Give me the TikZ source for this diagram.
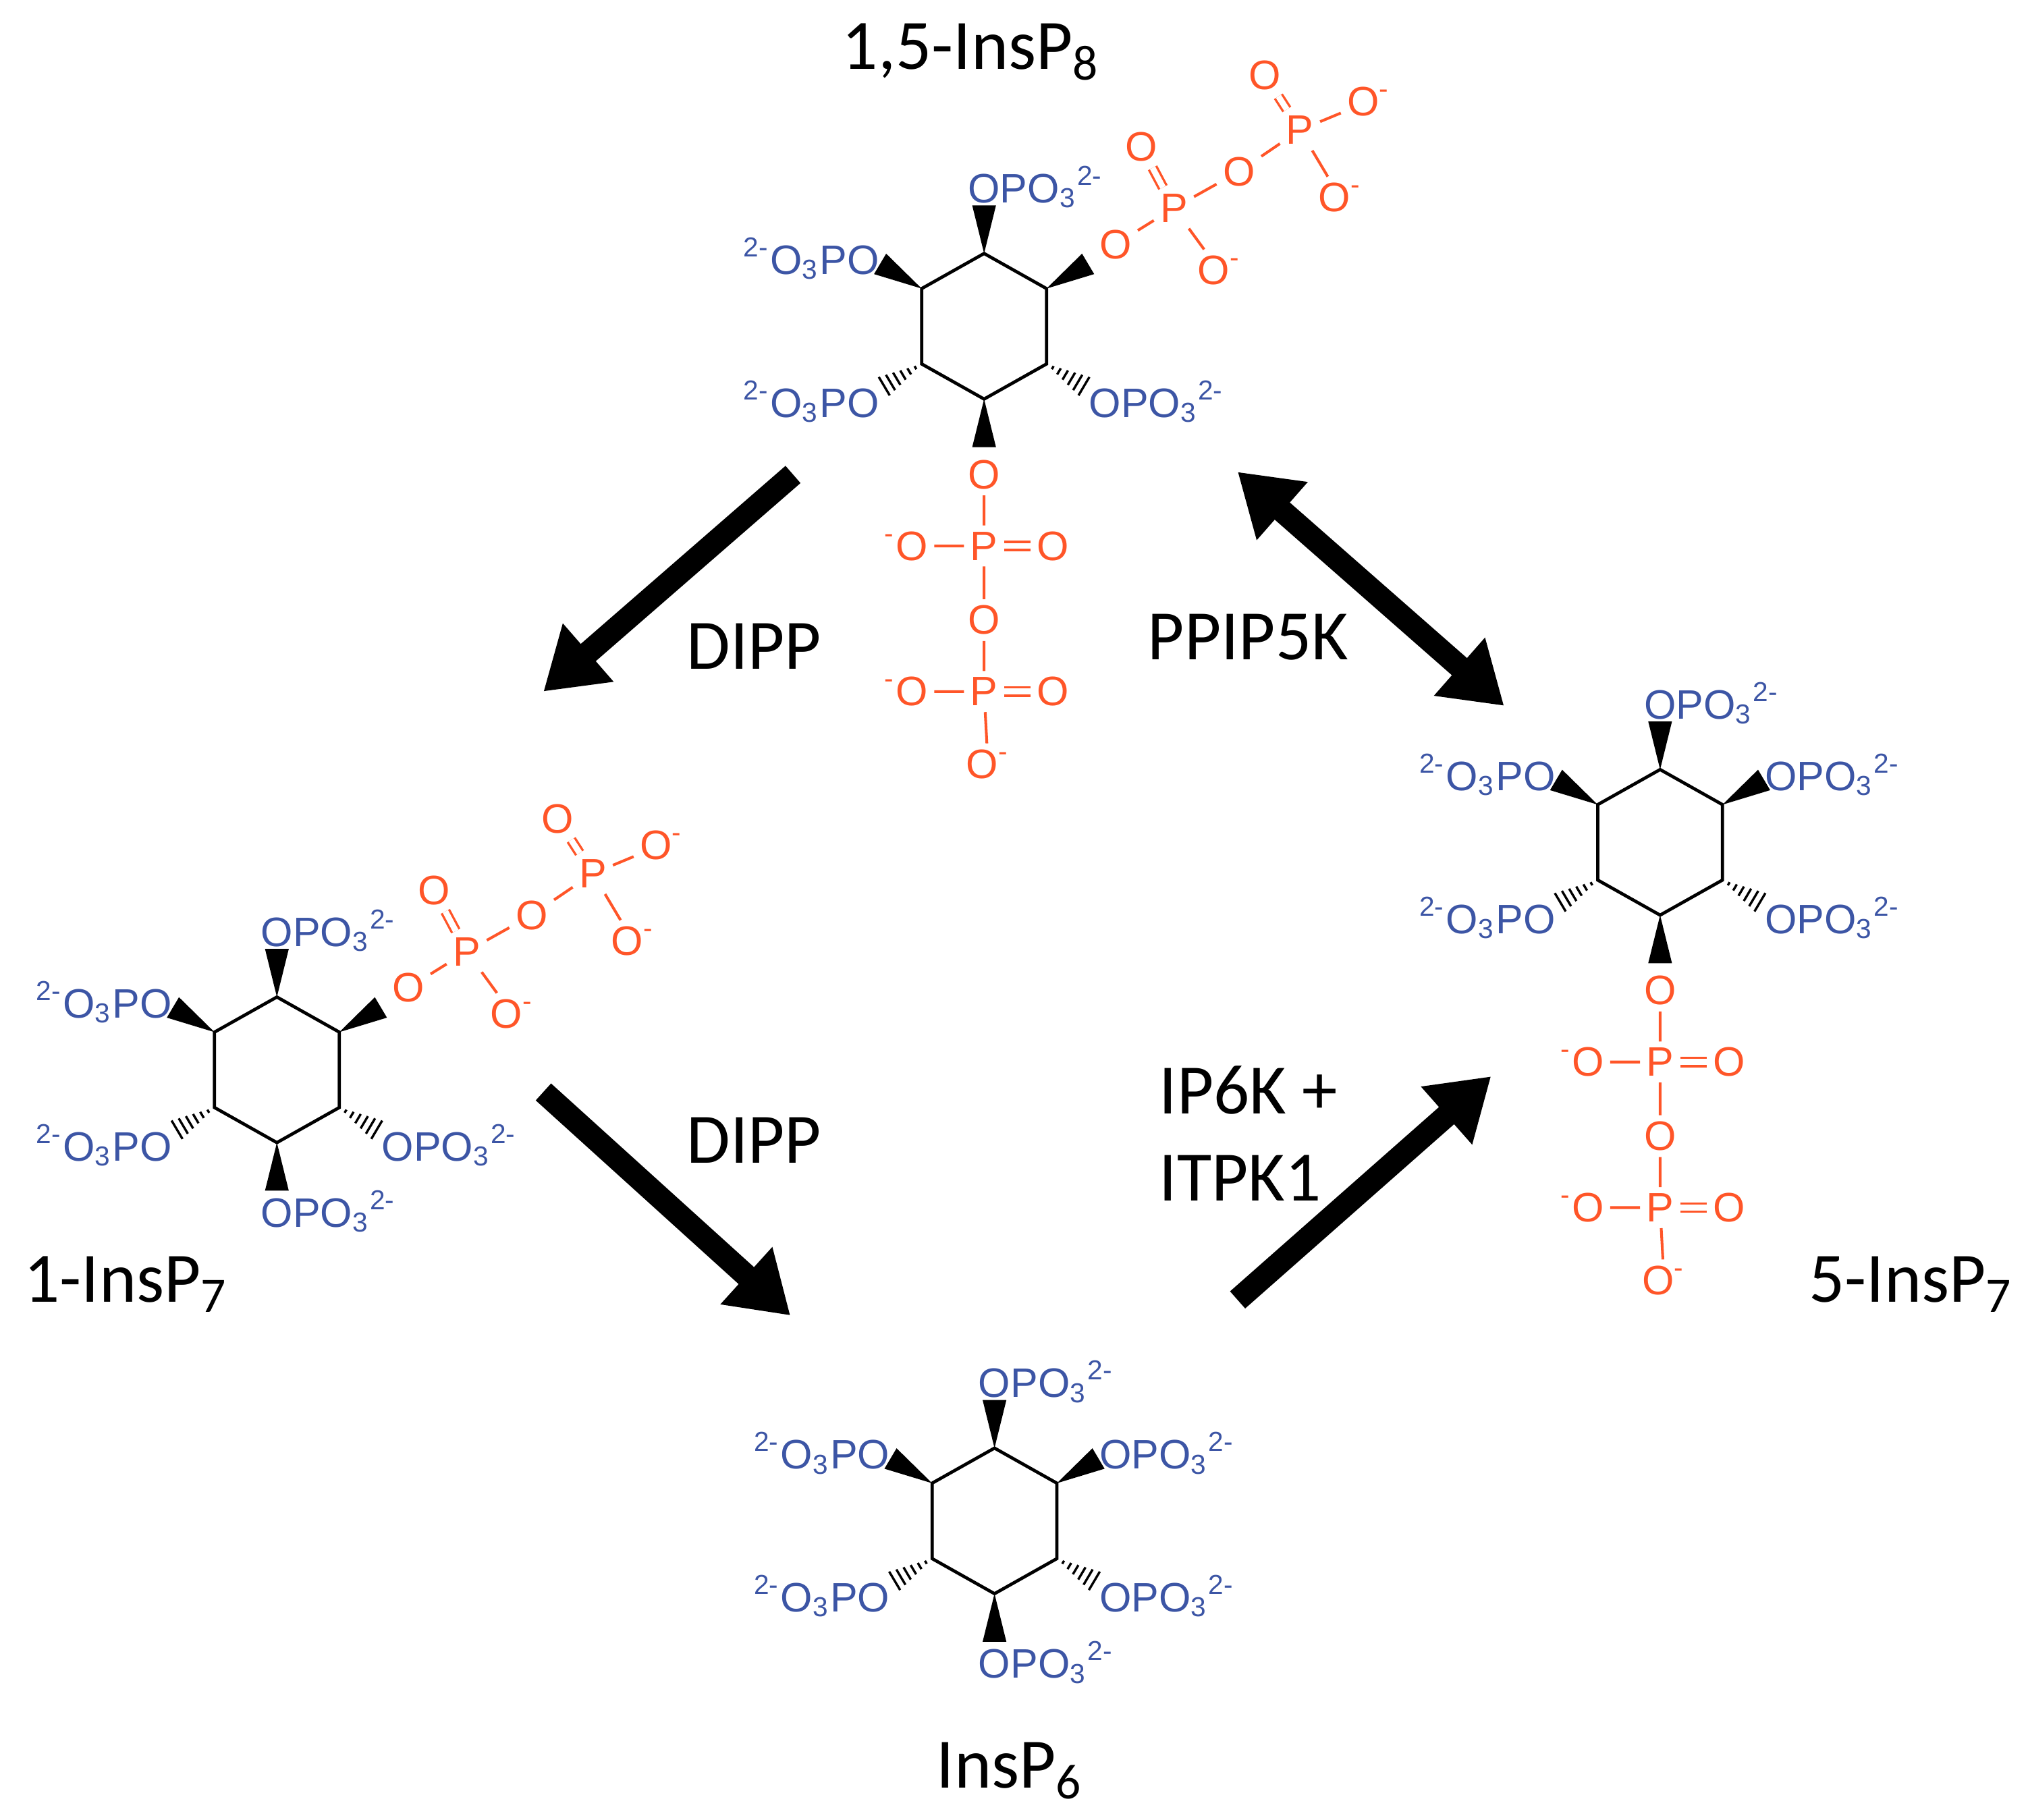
\documentclass[tikz,border=0pt]{standalone}
\usepackage{fontspec}
\setmainfont{Carlito}
\newfontfamily\chem{Liberation Sans}
\usetikzlibrary{calc,arrows.meta}
\definecolor{cblue}{RGB}{60,85,165}
\definecolor{corange}{RGB}{255,85,40}
\tikzset{
 blab/.style={font=\chem\fontsize{9}{10}\selectfont, text=cblue, inner sep=0pt},
 oat/.style={font=\chem\fontsize{9}{10}\selectfont, text=corange, inner sep=1.2pt},
 obond/.style={draw=corange, line width=0.6pt},
 odbl/.style={draw=corange, line width=0.5pt, double=white, double distance=1.3pt},
 ringline/.style={line width=0.7pt},
 bigarrow/.style={line width=5pt, -{Triangle[length=13pt,width=16pt]}},
 bigdarrow/.style={line width=5pt, {Triangle[length=13pt,width=16pt]}-{Triangle[length=13pt,width=16pt]}},
 molname/.style={font=\fontsize{15.5}{18}\selectfont, inner sep=0pt},
 enzyme/.style={font=\fontsize{15.5}{19}\selectfont, inner sep=0pt},
}
\newcommand\opo{OPO\textsubscript{3}\textsuperscript{2-}}
\newcommand\opol{\textsuperscript{2-}O\textsubscript{3}PO}
\newcommand\insring{%
 \coordinate (v1) at (0,-56); \coordinate (v2) at (48,-29); \coordinate (v3) at (48,29);
 \coordinate (v4) at (0,56); \coordinate (v5) at (-48,29); \coordinate (v6) at (-48,-29);
 \coordinate (e1) at (0,-93); \coordinate (e2) at (80,-48); \coordinate (e3) at (80,48);
 \coordinate (e4) at (0,93); \coordinate (e5) at (-80,48); \coordinate (e6) at (-80,-48);
 \draw[ringline] (v1)--(v2)--(v3)--(v4)--(v5)--(v6)--cycle;
 \foreach \i in {1,2,4,6}{\fill (v\i) -- ($(e\i)!2.6pt!90:(v\i)$) -- ($(e\i)!2.6pt!-90:(v\i)$) -- cycle;}
 \foreach \i in {3,5}{\foreach \t in {0.15,0.3,0.45,0.6,0.75,0.9}{\draw[line width=0.5pt] ($(v\i)!\t!(e\i)!{\t*2.6pt}!90:(e\i)$) -- ($(v\i)!\t!(e\i)!{\t*2.6pt}!-90:(e\i)$);}}
}
\newcommand\labTop{\node[blab,anchor=base west] at (-13,-95) {\opo};}
\newcommand\labUL{\node[blab,anchor=base east] at (-80,-40) {\opol};}
\newcommand\labUR{\node[blab,anchor=base west] at (80,-40) {\opo};}
\newcommand\labLL{\node[blab,anchor=base east] at (-80,70) {\opol};}
\newcommand\labLR{\node[blab,anchor=base west] at (80,70) {\opo};}
\newcommand\labBot{\node[blab,anchor=base west] at (-13,121) {\opo};}
\newcommand\chainB[1]{%
 \node[oat] (#1a) at (0,114) {O};
 \node[oat] (#1b) at (0,169) {P};
 \node[oat] (#1c) at (-60,169) {\textsuperscript{-}O};
 \node[oat] (#1d) at (53,169) {O};
 \node[oat] (#1e) at (0,226) {O};
 \node[oat] (#1f) at (0,281) {P};
 \node[oat] (#1g) at (-60,281) {\textsuperscript{-}O};
 \node[oat] (#1h) at (53,281) {O};
 \node[oat] (#1i) at (3,337) {O\textsuperscript{-}};
 \draw[obond] (#1a)--(#1b) (#1b)--(#1c) (#1b)--(#1e) (#1e)--(#1f) (#1f)--(#1g) (#1f)--(#1i);
 \draw[odbl] (#1b)--(#1d) (#1f)--(#1h);
}
\newcommand\chainR[1]{%
 \node[oat] (#1a) at (101,-63) {O};
 \node[oat] (#1b) at (146,-91) {P};
 \node[oat] (#1c) at (181,-43) {O\textsuperscript{-}};
 \node[oat] (#1d) at (121,-138) {O};
 \node[oat] (#1e) at (196,-119) {O};
 \node[oat] (#1f) at (243,-151) {P};
 \node[oat] (#1g) at (216,-193) {O};
 \node[oat] (#1h) at (296,-173) {O\textsuperscript{-}};
 \node[oat] (#1i) at (274,-99) {O\textsuperscript{-}};
 \draw[obond] (#1a)--(#1b) (#1b)--(#1c) (#1b)--(#1e) (#1e)--(#1f) (#1f)--(#1h) (#1f)--(#1i);
 \draw[odbl] (#1b)--(#1d) (#1f)--(#1g);
}
\begin{document}
\begin{tikzpicture}[x=0.01cm,y=-0.01cm]
\useasboundingbox (0,0) rectangle (1560,1400);
% 1,5-InsP8
\begin{scope}[shift={(757,251)}]
 \insring \labTop \labUL \labLL \labLR \chainB{p8b} \chainR{p8r}
\end{scope}
% 1-InsP7
\begin{scope}[shift={(213,823)}]
 \insring \labTop \labUL \labLL \labLR \labBot \chainR{p7r}
\end{scope}
% 5-InsP7
\begin{scope}[shift={(1277,648)}]
 \insring \labTop \labUL \labUR \labLL \labLR \chainB{q7b}
\end{scope}
% InsP6
\begin{scope}[shift={(765,1170)}]
 \insring \labTop \labUL \labUR \labLL \labLR \labBot
\end{scope}
% names
\node[molname] (n8) at (747,40) {1,5-InsP\textsubscript{8}};
\node[molname] (n1) at (97,988) {1-InsP\textsubscript{7}};
\node[molname] (n5) at (1470,988) {5-InsP\textsubscript{7}};
\node[molname] (n6) at (777,1362) {InsP\textsubscript{6}};
% arrows
\coordinate (a1s) at (610,365); \coordinate (a1e) at (418,532);
\coordinate (a2s) at (418,840); \coordinate (a2e) at (608,1012);
\coordinate (a3s) at (952,1000); \coordinate (a3e) at (1147,828);
\coordinate (a4s) at (952,363); \coordinate (a4e) at (1157,543);
\draw[bigarrow] (a1s) -- (a1e);
\draw[bigarrow] (a2s) -- (a2e);
\draw[bigarrow] (a3s) -- (a3e);
\draw[bigdarrow] (a4s) -- (a4e);
% enzymes
\node[enzyme] (d1) at (580,497) {DIPP};
\node[enzyme] (d2) at (580,877) {DIPP};
\node[enzyme] (pp) at (960,490) {PPIP5K};
\node[enzyme, anchor=west, align=left] (ip) at (891,872) {IP6K +\\ITPK1};
\end{tikzpicture}
\end{document}
